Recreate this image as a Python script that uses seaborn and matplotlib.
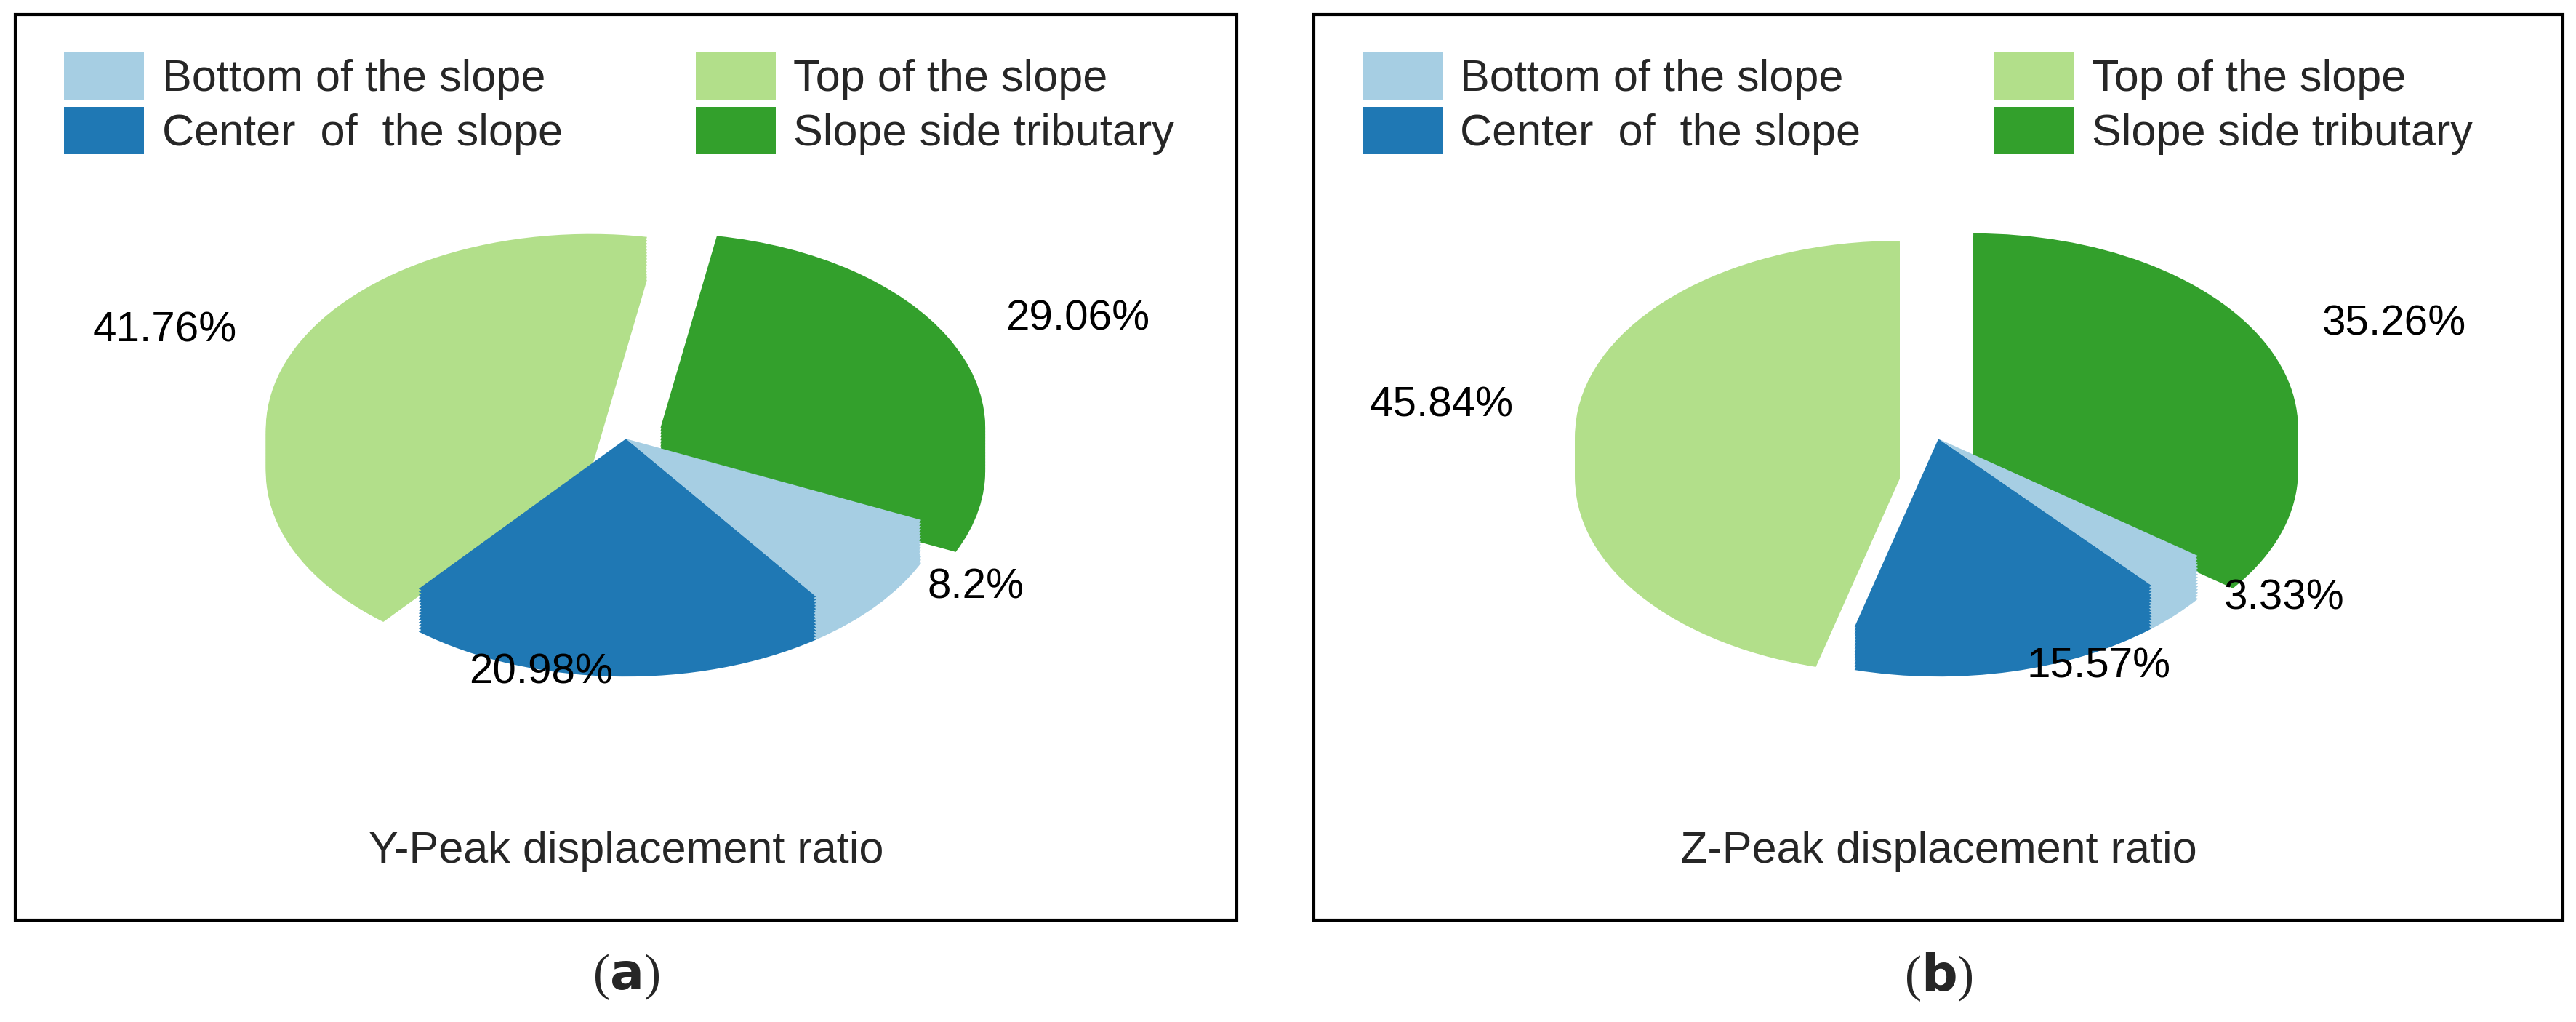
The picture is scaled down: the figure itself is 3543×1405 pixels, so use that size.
import matplotlib
matplotlib.use("Agg")
import matplotlib.pyplot as plt
import seaborn as sns
from matplotlib.patches import Rectangle, Patch

sns.set_theme(style="white")
plt.rcParams['font.family'] = ['Liberation Sans', 'DejaVu Sans']

# Data
categories = ["Top of the slope", "Center  of  the slope", "Bottom of the slope", "Slope side tributary"]
y_values = [41.76, 20.98, 8.2, 29.06]
y_labels = ["41.76%", "20.98%", "8.2%", "29.06%"]
z_values = [45.84, 15.57, 3.33, 35.26]
z_labels = ["45.84%", "15.57%", "3.33%", "35.26%"]
titles = ["Y-Peak displacement ratio", "Z-Peak displacement ratio"]
panel_tags = ["a", "b"]

pal = sns.color_palette("Paired", 4)
# Paired: light blue, blue, light green, green
colors = [pal[2], pal[1], pal[0], pal[3]]

fig = plt.figure(figsize=(35.43, 14.05), dpi=100)
W, H = 3543, 1405

boxes = [(0.006, 0.10, 0.474, 0.886), (0.51, 0.10, 0.485, 0.886)]
panels = [
    (y_values, y_labels, 80, [0.12, 0, 0, 0.12]),
    (z_values, z_labels, 90, [0.12, 0, 0, 0.12]),
]

ax_w = 1297
ax_h = 804
for i, (bx, by, bw, bh) in enumerate(boxes):
    fig.patches.append(Rectangle((bx, by), bw, bh, transform=fig.transFigure,
                                 fill=False, edgecolor="black", linewidth=3))
    vals, labs, start, expl = panels[i]
    cx = bx + bw / 2
    ax = fig.add_axes([cx - ax_w / 2 / W, 373 / H, ax_w / W, ax_h / H])
    depth = 0.22
    steps = 14
    for k in range(steps, 0, -1):
        off = depth * k / steps
        ax.pie(vals, colors=colors, startangle=start, explode=expl,
               center=(0, -off), wedgeprops=dict(linewidth=0))
    ax.pie(vals, colors=colors, startangle=start, explode=expl, labels=labs,
           labeldistance=1.2, center=(0, 0), wedgeprops=dict(linewidth=0),
           textprops=dict(fontsize=42, color="black"))
    ax.set_aspect(0.6)
    ax.set_xlim(-1.45, 1.45)
    ax.set_ylim(-1.6, 1.4)
    ax.axis("off")

    # legend
    order = [2, 1, 0, 3]
    handles = [Patch(facecolor=colors[j], edgecolor="none") for j in order]
    names = ["Bottom of the slope", "Center  of  the slope", "Top of the slope", "Slope side tributary"]
    fig.legend(handles, names, ncol=2, loc="upper left",
               bbox_to_anchor=(bx + 0.012, by + bh - 0.02), frameon=False,
               fontsize=44, handlelength=1.8, handleheight=1.25,
               handletextpad=0.4, labelspacing=0.15, columnspacing=3.0,
               borderaxespad=0)

    fig.text(cx, 0.167, titles[i], ha="center", va="center", fontsize=44)
    fig.text(cx, 0.044, r"($\mathbf{" + panel_tags[i] + r"}$)", ha="center", va="center",
             fontsize=50, family="Liberation Serif")

fig.savefig("out.png", dpi=100)
